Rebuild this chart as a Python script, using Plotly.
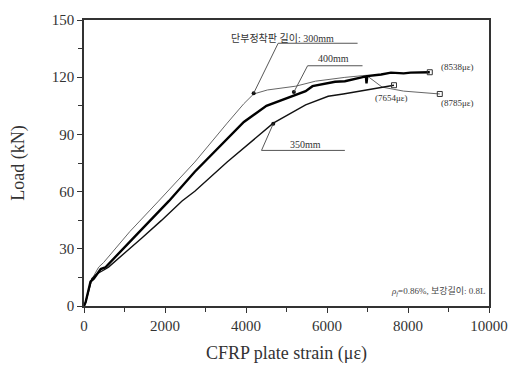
import plotly.graph_objects as go

# ---- data (CFRP plate strain in micro-strain, load in kN) ----
x_300 = [0, 40, 161, 242, 363, 484, 1130, 1840, 2736, 3535, 3947, 4189, 4528, 5230, 5714, 6441, 6973, 7361, 7893, 8785]
y_300 = [0, 2, 12.8, 15.8, 20.4, 22.8, 39.0, 55.0, 75.5, 95.9, 106.1, 111.2, 113.3, 115.3, 117.9, 119.9, 121.0, 114.8, 112.7, 111.2]

x_400 = [0, 40, 161, 242, 412, 525, 1312, 2099, 2736, 3366, 3947, 4504, 5157, 5472, 5642, 6150, 5700, 6200, 6441, 6852, 6960, 6975, 6995, 7337, 7579, 7893, 8063, 8538]
y_400 = [0, 2, 12.8, 14.3, 19.4, 20.2, 37.7, 55.1, 70.4, 84.2, 96.5, 105.0, 110.2, 112.7, 115.3, 117.6, 115.4, 117.6, 117.9, 119.9, 120.4, 116.8, 120.6, 121.4, 122.4, 122.0, 122.4, 122.6]

x_350 = [0, 40, 194, 315, 533, 605, 1429, 1913, 2421, 2736, 3535, 4189, 4673, 5472, 6029, 6400, 6852, 7361, 7654]
y_350 = [0, 2, 14.3, 16.8, 19.4, 20.4, 35.7, 44.9, 55.1, 60.2, 75.5, 87.2, 95.9, 105.5, 110.0, 111.2, 113.0, 114.8, 115.8]

x_ticks = [0, 2000, 4000, 6000, 8000, 10000]
y_ticks = [0, 30, 60, 90, 120, 150]

end_labels = ["(8538\u03bc\u03b5)", "(7654\u03bc\u03b5)", "(8785\u03bc\u03b5)"]
curve_labels = ["\ub2e8\ubd80\uc815\ucc29\ud310 \uae38\uc774: 300mm", "400mm", "350mm"]
note_text = "<i>\u03c1<sub>f</sub></i>=0.86%, \ubcf4\uac15\uae38\uc774: 0.8L"

SERIF = "Liberation Serif, Times New Roman, Noto Sans CJK KR, serif"
TXT = "#333333"

fig = go.Figure()
fig.add_trace(go.Scatter(x=x_300, y=y_300, mode="lines",
                         line=dict(color="#666666", width=1), showlegend=False))
fig.add_trace(go.Scatter(x=x_350, y=y_350, mode="lines",
                         line=dict(color="#111111", width=1.4), showlegend=False))
fig.add_trace(go.Scatter(x=x_400, y=y_400, mode="lines",
                         line=dict(color="#000000", width=2.4), showlegend=False))
# open square end markers
fig.add_trace(go.Scatter(x=[x_400[-1], x_350[-1], x_300[-1]],
                         y=[y_400[-1], y_350[-1], y_300[-1]], mode="markers",
                         marker=dict(symbol="square-open", size=5, color="#333333",
                                     line=dict(width=1)),
                         showlegend=False))

# curve labels with leader lines: (text x, text y, underline x0, x1, y, target x, y)
leaders = [
    (4903, 140.8, 4794, 6755, 137.8, 4189, 111.6),
    (6150, 129.8, 5521, 6877, 126.0, 5182, 112.2),
    (5472, 84.6, 4383, 6441, 81.6, 4673, 95.6),
]
anns = []
shapes = []
for lab, (tx, ty, u0, u1, uy, px, py) in zip(curve_labels, leaders):
    anns.append(dict(x=tx, y=ty, xref="x", yref="y", text=lab, showarrow=False,
                     font=dict(family=SERIF, size=10, color=TXT)))
    shapes.append(dict(type="line", xref="x", yref="y", x0=u0, x1=u1, y0=uy, y1=uy,
                       line=dict(color="#555555", width=1)))
    shapes.append(dict(type="line", xref="x", yref="y", x0=u0, x1=px, y0=uy, y1=py,
                       line=dict(color="#444444", width=0.9)))

fig.add_trace(go.Scatter(x=[l[5] for l in leaders], y=[l[6] for l in leaders], mode="markers",
                         marker=dict(symbol="circle", size=4, color="#111111"),
                         showlegend=False))

# endpoint strain labels
anns.append(dict(x=8760, y=125.6, xref="x", yref="y", text=end_labels[0], showarrow=False,
                 xanchor="left", font=dict(family=SERIF, size=9, color=TXT)))
anns.append(dict(x=7603, y=109.0, xref="x", yref="y", text=end_labels[1], showarrow=False,
                 xanchor="center", font=dict(family=SERIF, size=9, color=TXT)))
anns.append(dict(x=8760, y=106.6, xref="x", yref="y", text=end_labels[2], showarrow=False,
                 xanchor="left", font=dict(family=SERIF, size=9, color=TXT)))
anns.append(dict(x=9980, y=7.5, xref="x", yref="y", text=note_text, showarrow=False,
                 xanchor="right", font=dict(family=SERIF, size=9, color="#444444")))

axis_common = dict(showline=True, linecolor="#333333", linewidth=1.5, mirror=True,
                   ticks="outside", ticklen=5, tickwidth=1.2, tickcolor="#333333",
                   showgrid=False, zeroline=False,
                   tickfont=dict(family=SERIF, size=15, color=TXT))

fig.update_layout(
    width=520, height=372,
    margin=dict(l=84, r=23, t=14, b=64),
    paper_bgcolor="white", plot_bgcolor="white",
    xaxis=dict(range=[0, 10000], tickvals=x_ticks, ticktext=[str(v) for v in x_ticks],
               minor=dict(ticks="outside", ticklen=4, dtick=1000, tickcolor="#333333", tickwidth=1),
               title=dict(text="CFRP plate strain (\u03bc\u03b5)", standoff=14,
                          font=dict(family=SERIF, size=18, color=TXT)),
               **axis_common),
    yaxis=dict(range=[0, 150], tickvals=y_ticks, ticktext=[str(v) for v in y_ticks],
               minor=dict(ticks="outside", ticklen=4, dtick=15, tickcolor="#333333", tickwidth=1),
               title=dict(text="Load (kN)", standoff=22,
                          font=dict(family=SERIF, size=18, color=TXT)),
               **axis_common),
    annotations=anns,
    shapes=shapes,
)

fig.write_html("out.html")
